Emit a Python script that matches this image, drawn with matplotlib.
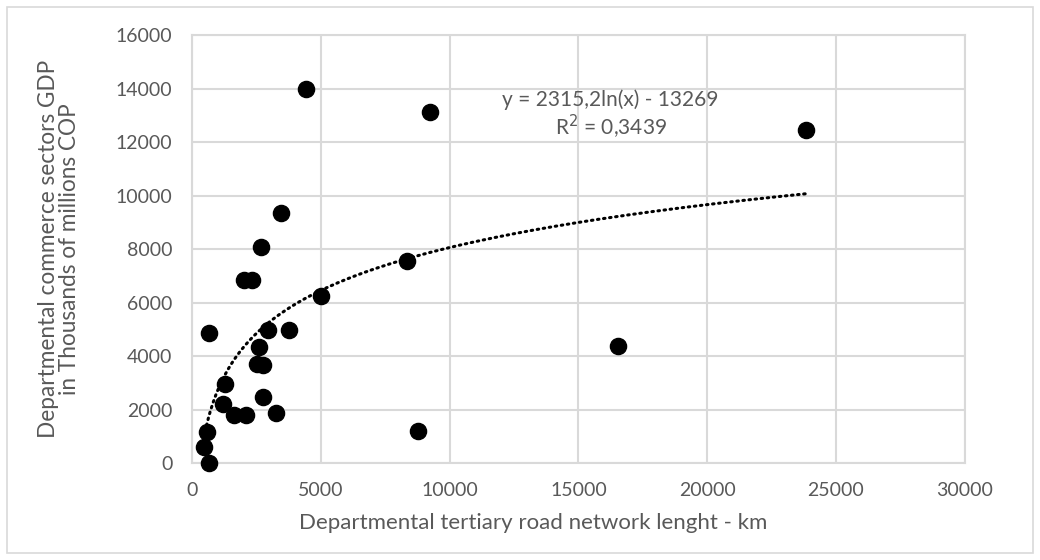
import numpy as np
import matplotlib.pyplot as plt
from matplotlib.patches import Rectangle

# road network length (km) vs commerce GDP (thousands of millions COP)
road_km = [466, 595, 673, 673, 1216, 1294, 1643, 2030, 2083, 2317,
           2510, 2613, 2666, 2768, 2768, 2962, 3260, 3454, 3752, 4424,
           5006, 8343, 8770, 9236, 16531, 23826]
gdp = [610, 1150, 0, 4870, 2190, 2950, 1800, 6840, 1800, 6840,
       3700, 4350, 8090, 3660, 2480, 4970, 1860, 9360, 4970, 13980,
       6240, 7560, 1200, 13120, 4380, 12450]

coef_a = 2315.2
coef_b = -13269
r2_text = "0,3439"

x_ticks = np.arange(0, 30001, 5000)
y_ticks = np.arange(0, 16001, 2000)

grey = "#595959"
plt.rcParams['font.family'] = ['Lato', 'DejaVu Sans']

fig = plt.figure(figsize=(10.4, 5.6), dpi=100)
ax = fig.add_axes([0.1846, 0.1732, 0.7431, 0.7643])

ax.set_xlim(0, 30000)
ax.set_ylim(0, 16000)
ax.set_xticks(x_ticks)
ax.set_yticks(y_ticks)
ax.grid(True, color="#d9d9d9", linewidth=1.5, zorder=0)
for s in ax.spines.values():
    s.set_color("#d9d9d9")
    s.set_linewidth(1.5)
ax.tick_params(length=0, labelsize=14, labelcolor=grey, pad=14)

# logarithmic trendline over the data range
xt = np.linspace(min(road_km), max(road_km), 400)
ax.plot(xt, coef_a * np.log(xt) + coef_b, color="black", linewidth=2.2,
        linestyle=(0, (0.5, 1.5)), dash_capstyle="round", zorder=2)

ax.scatter(road_km, gdp, s=135, color="black", zorder=3, clip_on=False)

ax.text(16250, 13570, "y = 2315,2ln(x) - 13269", ha="center", va="center",
        fontsize=15, color=grey)
ax.text(16250, 12560, "R$^2$ = " + r2_text, ha="center", va="center",
        fontsize=15, color=grey)

ax.set_xlabel("Departmental tertiary road network lenght - km", fontsize=16,
              color=grey, labelpad=10)
ax.xaxis.label.set_x(0.442)
ax.set_ylabel("Departmental commerce sectors GDP\nin Thousands of millions COP",
              fontsize=16.3, color=grey, labelpad=26, linespacing=1.0)

fig.patches.append(Rectangle((0.007, 0.012), 0.986, 0.976, transform=fig.transFigure,
                             fill=False, edgecolor="#d9d9d9", linewidth=1.2))

fig.savefig("out.png", dpi=100)
